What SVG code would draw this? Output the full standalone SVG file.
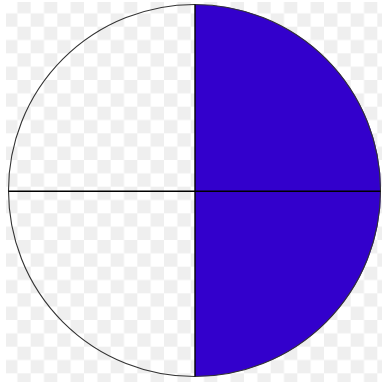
<svg xmlns="http://www.w3.org/2000/svg" width="387" height="382" viewBox="0 0 387 382">
  <defs>
    <pattern id="checker" patternUnits="userSpaceOnUse" x="4" y="0" width="26.667" height="26.667">
      <rect x="0" y="0" width="26.667" height="26.667" fill="#ffffff"/>
      <rect x="13.333" y="0" width="13.333" height="13.333" fill="#efefef"/>
      <rect x="0" y="13.333" width="13.333" height="13.333" fill="#efefef"/>
    </pattern>
  </defs>
  <style>
    .edge { fill: none; stroke: #333333; stroke-width: 1.1; }
    .divider { stroke: #000000; stroke-width: 1.4; fill: none; }
    .shaded { fill: #3300cc; }
  </style>
  <rect x="0" y="0" width="387" height="382" fill="#ffffff"/>
  <rect x="6" y="2" width="376" height="380" fill="url(#checker)"/>
  <g id="circle">
    <path class="shaded" d="M195,4.5 A186,186 0 0 1 195,376.5 Z"/>
    <circle class="edge" cx="194.5" cy="190.5" r="186"/>
    <line class="divider" x1="195" y1="4.5" x2="195" y2="376.5"/>
    <line class="divider" x1="8.5" y1="191.3" x2="380.5" y2="191.3"/>
  </g>
</svg>
